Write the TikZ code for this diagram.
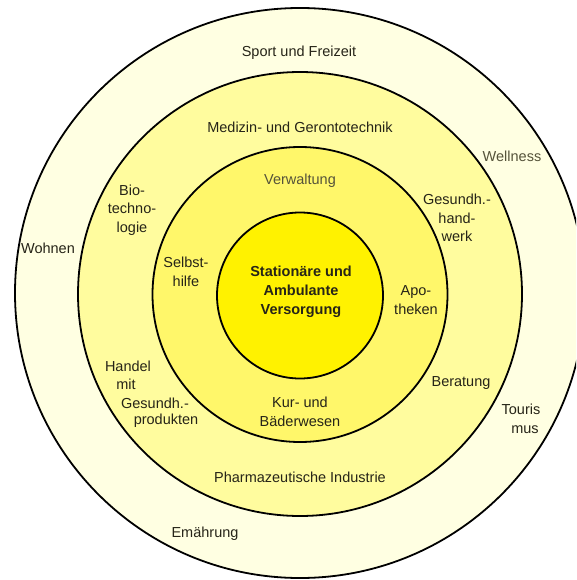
\documentclass[tikz,border=0pt]{standalone}
\usepackage{fontspec}
\setmainfont{Liberation Sans}
\definecolor{ringA}{HTML}{FFFFE2}
\definecolor{ringB}{HTML}{FFFC9E}
\definecolor{ringC}{HTML}{FFF76A}
\definecolor{core}{HTML}{FFF200}
\definecolor{txt}{HTML}{262418}
\definecolor{txtgray}{HTML}{55533A}
\begin{document}
\begin{tikzpicture}[x=1pt,y=-1pt,
  ring/.style={draw=black, line width=1.8pt},
  lbl/.style={font=\fontsize{14.5}{18.5}\selectfont, text=txt, align=center, inner sep=0pt},
  lblgray/.style={lbl, text=txtgray},
  lblbold/.style={lbl, font=\fontsize{14.5}{19}\selectfont\bfseries}]
\useasboundingbox (0,0) rectangle (576,580);
\fill[white] (0,0) rectangle (576,580);
\begin{scope}
  \clip (0,0) rectangle (576,580);
  \draw[ring, fill=ringA] (300,293) circle[radius=285];
\end{scope}
\draw[ring, fill=ringB] (300,294) circle[radius=222];
\draw[ring, fill=ringC] (300,294.5) circle[radius=147.5];
\draw[ring, fill=core] (300,295.5) circle[radius=83];

\node[lblbold] (center) at (301,292) {Stationäre und\\Ambulante\\Versorgung};

\node[lbl] (sport) at (299,53) {Sport und Freizeit};
\node[lbl] (medizin) at (300,127) {Medizin- und Gerontotechnik};
\node[lblgray] (wellness) at (512,156) {Wellness};
\node[lblgray] (verwaltung) at (300,181) {Verwaltung};
\node[lbl] (bio) at (132,210) {Bio-\\techno-\\logie};
\node[lbl] (handwerk) at (457,218) {Gesundh.-\\hand-\\werk};
\node[lbl] (wohnen) at (48,248) {Wohnen};
\node[lbl] (selbst) at (186,272) {Selbst-\\hilfe};
\node[lbl] (apo) at (416,300) {Apo-\\theken};
\node[lbl] (handel1) at (128,366) {Handel};
\node[lbl] (handel2) at (126,384) {mit};
\node[lbl] (handel3) at (155,403) {Gesundh.-};
\node[lbl] (handel4) at (166,421) {produkten};
\node[lbl] (beratung) at (461,383) {Beratung};
\node[lbl] (kur) at (300,412) {Kur- und\\Bäderwesen};
\node[lbl] (touris) at (521,419) {Touris\\\hspace*{8pt}mus};
\node[lbl] (pharma) at (300,477) {Pharmazeutische Industrie};
\node[lbl] (ernaehrung) at (205,534) {Emährung};
\end{tikzpicture}
\end{document}
